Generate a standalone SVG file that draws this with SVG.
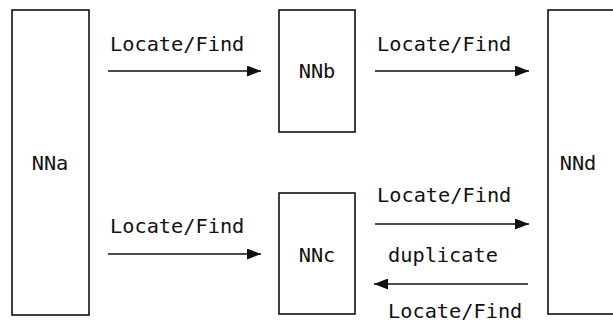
<svg xmlns="http://www.w3.org/2000/svg" width="613" height="325" viewBox="0 0 613 325">
<style>
.box{fill:#fff;stroke:#111;stroke-width:1.6}
.ln{stroke:#111;stroke-width:1.6;fill:none}
text{font-family:"DejaVu Sans Mono","Liberation Mono",monospace;font-size:20.3px;fill:#111}
.c{text-anchor:middle}
</style>
<defs>
<marker id="ah" viewBox="0 0 14 11" refX="14" refY="5.5" markerWidth="14" markerHeight="11" markerUnits="userSpaceOnUse" orient="auto">
<path d="M0,0 L14,5.5 L0,11 Z" fill="#111"/>
</marker>
</defs>
<rect width="613" height="325" fill="#fff"/>
<g id="NNa"><rect class="box" x="12" y="10" width="77" height="305"/><text class="c" x="50" y="170">NNa</text></g>
<g id="NNb"><rect class="box" x="279" y="10" width="76" height="122"/><text class="c" x="317" y="78">NNb</text></g>
<g id="NNc"><rect class="box" x="279" y="193" width="76" height="121"/><text class="c" x="317" y="262">NNc</text></g>
<g id="NNd"><rect class="box" x="548" y="10" width="90" height="304"/><text class="c" x="578" y="170">NNd</text></g>
<g id="connectors">
<line class="ln" x1="108" y1="71" x2="261" y2="71" marker-end="url(#ah)"/>
<text x="110" y="51">Locate/Find</text>
<line class="ln" x1="375" y1="71" x2="529" y2="71" marker-end="url(#ah)"/>
<text x="377" y="51">Locate/Find</text>
<line class="ln" x1="108" y1="254" x2="261" y2="254" marker-end="url(#ah)"/>
<text x="110" y="233">Locate/Find</text>
<line class="ln" x1="375" y1="224" x2="529" y2="224" marker-end="url(#ah)"/>
<text x="377" y="202">Locate/Find</text>
<text x="388" y="262">duplicate</text>
<line class="ln" x1="528" y1="284" x2="374" y2="284" marker-end="url(#ah)"/>
<text x="388" y="318">Locate/Find</text>
</g>
</svg>
